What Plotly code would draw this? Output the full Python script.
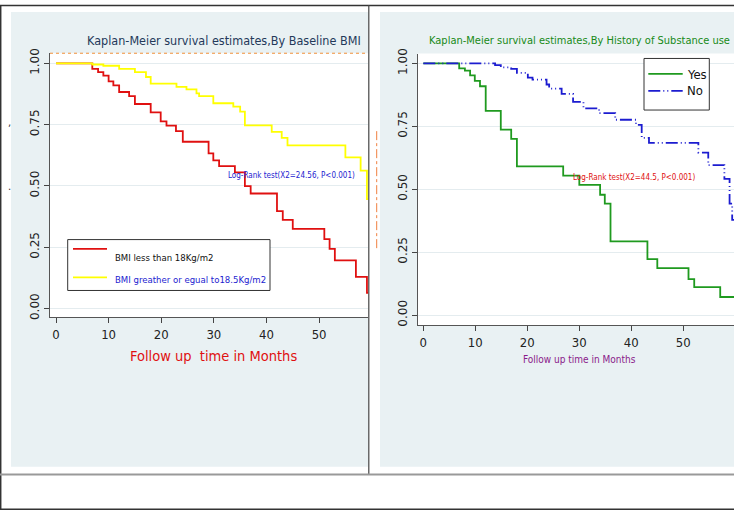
import plotly.graph_objects as go

W, H = 734, 513

# ---------------- data ----------------
months_ticks = [0, 10, 20, 30, 40, 50, 60]
surv_ticks = [0, 0.25, 0.5, 0.75, 1.0]
surv_tick_text = ["0.00", "0.25", "0.50", "0.75", "1.00"]

bmi_low_t = [0, 6.9, 8.0, 9.0, 10.0, 10.9, 12.0, 13.9, 15.0, 18.0, 19.9, 21.0, 22.8, 24.1,
             29.0, 29.9, 31.0, 34.0, 35.9, 37.0, 42.0, 43.1, 45.0, 51.0, 52.0, 53.0, 57.0, 59.1, 60]
bmi_low_s = [1.0, 0.977, 0.964, 0.950, 0.926, 0.910, 0.883, 0.866, 0.834, 0.800, 0.763, 0.746, 0.723, 0.680,
             0.633, 0.604, 0.581, 0.555, 0.499, 0.469, 0.397, 0.361, 0.325, 0.283, 0.243, 0.196, 0.129, 0.064, 0.064]

bmi_high_t = [0, 6.9, 9.0, 12.0, 15.0, 17.1, 18.0, 22.9, 24.8, 26.7, 27.2, 29.9, 33.7, 35.0, 35.9,
              41.0, 42.9, 44.0, 55.0, 57.9, 59.1, 60]
bmi_high_s = [1.0, 0.995, 0.990, 0.977, 0.964, 0.944, 0.917, 0.904, 0.894, 0.877, 0.866, 0.837, 0.823, 0.803, 0.747,
              0.720, 0.696, 0.665, 0.616, 0.562, 0.446, 0.446]

subst_yes_t = [0, 6.9, 8.0, 9.0, 9.9, 10.9, 12.0, 14.9, 16.9, 18.0, 26.9, 30.0, 34.0, 34.9, 36.0,
               43.1, 45.0, 51.0, 52.1, 57.1, 60]
subst_yes_s = [1.0, 0.980, 0.971, 0.952, 0.930, 0.909, 0.811, 0.737, 0.700, 0.591, 0.554, 0.517, 0.478, 0.443, 0.293,
               0.222, 0.187, 0.143, 0.111, 0.072, 0.072]

subst_no_t = [0, 13.8, 14.9, 16.9, 18.0, 20.1, 21.0, 23.7, 24.2, 26.6, 28.8, 30.8, 33.8, 36.9, 40.9,
              42.0, 43.4, 52.9, 54.8, 57.9, 58.9, 59.4, 60]
subst_no_s = [1.0, 0.993, 0.984, 0.978, 0.962, 0.943, 0.935, 0.916, 0.900, 0.879, 0.847, 0.821, 0.802, 0.776, 0.756,
              0.704, 0.684, 0.645, 0.596, 0.541, 0.443, 0.378, 0.378]

left_title = "Kaplan-Meier survival estimates,By Baseline BMI"
right_title = "Kaplan-Meier survival estimates,By History of Substance use"
left_xtitle = "Follow up  time in Months"
right_xtitle = "Follow up time in Months"
left_test = "Log-Rank test(X2=24.56, P<0.001)"
right_test = "Log-Rank test(X2=44.5, P<0.001)"
legend_left = ["BMI less than 18Kg/m2", "BMI greather or egual to18.5Kg/m2"]
legend_right = ["Yes", "No"]

# ---------------- styles ----------------
RED = "#e01010"
YELLOW = "#ffff00"
GREEN = "#1f9a1f"
BLUE = "#1c1cd0"
PANEL = "#e9f1f3"
NARROW = "Liberation Sans Narrow, Arial Narrow, DejaVu Sans Condensed, Liberation Sans, sans-serif"
WIDE = "DejaVu Sans, Verdana, sans-serif"


def px(x):
    return x / W


def py(y):
    return 1 - y / H


fig = go.Figure()

fig.add_trace(go.Scatter(x=bmi_low_t, y=bmi_low_s, mode="lines", line=dict(shape="hv", color=RED, width=1.8),
                         xaxis="x", yaxis="y", showlegend=False))
fig.add_trace(go.Scatter(x=bmi_high_t, y=bmi_high_s, mode="lines", line=dict(shape="hv", color=YELLOW, width=1.8),
                         xaxis="x", yaxis="y", showlegend=False))
fig.add_trace(go.Scatter(x=subst_yes_t, y=subst_yes_s, mode="lines", line=dict(shape="hv", color=GREEN, width=1.8),
                         xaxis="x2", yaxis="y2", showlegend=False))
fig.add_trace(go.Scatter(x=subst_no_t, y=subst_no_s, mode="lines",
                         line=dict(shape="hv", color=BLUE, width=1.8, dash="12px,3px,1px,3px,1px,3px"),
                         xaxis="x2", yaxis="y2", showlegend=False))

common_x = dict(tickvals=months_ticks, ticks="outside", ticklen=5, tickcolor="#444", showline=True,
                linecolor="#555", linewidth=1, showgrid=False, zeroline=False,
                tickfont=dict(family=NARROW, size=13, color="#222"))
common_y = dict(tickvals=surv_ticks, ticktext=surv_tick_text, ticks="outside", ticklen=5, tickcolor="#444",
                showline=True, linecolor="#555", linewidth=1, showgrid=True, gridcolor="#e4ecef", gridwidth=1,
                zeroline=False, tickangle=-90, tickfont=dict(family=WIDE, size=12, color="#222"))

fig.update_layout(
    width=W, height=H, margin=dict(l=0, r=0, t=0, b=0, pad=0),
    paper_bgcolor="white", plot_bgcolor="rgba(0,0,0,0)",
    xaxis=dict(domain=[px(50), px(368)], range=[-1.14, 59.3], anchor="y", **common_x),
    yaxis=dict(domain=[py(317), py(49)], range=[-0.035, 1.041], anchor="x", **common_y),
    xaxis2=dict(domain=[px(417.7), 1.0], range=[-1.08, 59.75], anchor="y2", **common_x),
    yaxis2=dict(domain=[py(325), py(49.3)], range=[-0.039, 1.039], anchor="x2", **common_y),
)

shapes = []
# panel backgrounds
shapes.append(dict(type="rect", xref="paper", yref="paper", x0=px(11), x1=px(368), y0=py(469), y1=py(7),
                   fillcolor=PANEL, line=dict(width=0), layer="below"))
shapes.append(dict(type="rect", xref="paper", yref="paper", x0=px(380), x1=px(734), y0=py(469), y1=py(7),
                   fillcolor=PANEL, line=dict(width=0), layer="below"))
# plot areas
shapes.append(dict(type="rect", xref="paper", yref="paper", x0=px(50), x1=px(368), y0=py(317), y1=py(49),
                   fillcolor="white", line=dict(width=0), layer="below"))
shapes.append(dict(type="rect", xref="paper", yref="paper", x0=px(417.7), x1=1, y0=py(325), y1=py(49.3),
                   fillcolor="white", line=dict(width=0), layer="below"))
# orange dotted top line (left)
shapes.append(dict(type="line", xref="paper", yref="paper", x0=px(50), x1=px(368), y0=py(49), y1=py(49),
                   line=dict(color="#f0903a", width=1, dash="dot"), layer="above"))
# orange dash-dot vertical fragment between panels
shapes.append(dict(type="line", xref="paper", yref="paper", x0=px(376.7), x1=px(376.7), y0=py(247), y1=py(128),
                   line=dict(color="#f08040", width=1, dash="dashdot"), layer="above"))
# frame lines
shapes.append(dict(type="line", xref="paper", yref="paper", x0=0, x1=1, y0=py(0.5), y1=py(0.5),
                   line=dict(color="#333", width=1.5), layer="above"))
shapes.append(dict(type="line", xref="paper", yref="paper", x0=px(0.7), x1=px(0.7), y0=0, y1=1,
                   line=dict(color="#333", width=1.5), layer="above"))
shapes.append(dict(type="line", xref="paper", yref="paper", x0=0, x1=1, y0=py(512.3), y1=py(512.3),
                   line=dict(color="#333", width=1.5), layer="above"))
shapes.append(dict(type="line", xref="paper", yref="paper", x0=px(368.8), x1=px(368.8), y0=py(477), y1=1,
                   line=dict(color="#444", width=1.2), layer="above"))
shapes.append(dict(type="line", xref="paper", yref="paper", x0=0, x1=1, y0=py(477), y1=py(477),
                   line=dict(color="#999", width=2), layer="above"))
# left legend
shapes.append(dict(type="rect", xref="paper", yref="paper", x0=px(67.7), x1=px(270), y0=py(290), y1=py(238.3),
                   fillcolor="white", line=dict(color="#333", width=1), layer="above"))
shapes.append(dict(type="line", xref="paper", yref="paper", x0=px(73), x1=px(107), y0=py(247.7), y1=py(247.7),
                   line=dict(color=RED, width=1.8), layer="above"))
shapes.append(dict(type="line", xref="paper", yref="paper", x0=px(73), x1=px(107), y0=py(276.7), y1=py(276.7),
                   line=dict(color=YELLOW, width=1.8), layer="above"))
# right legend
shapes.append(dict(type="rect", xref="paper", yref="paper", x0=px(644), x1=px(709.3), y0=py(106.7), y1=py(54.3),
                   fillcolor="white", line=dict(color="#333", width=1), layer="above"))
shapes.append(dict(type="line", xref="paper", yref="paper", x0=px(648.3), x1=px(682.7), y0=py(70), y1=py(70),
                   line=dict(color=GREEN, width=1.8), layer="above"))
shapes.append(dict(type="line", xref="paper", yref="paper", x0=px(648.3), x1=px(682.7), y0=py(87.3), y1=py(87.3),
                   line=dict(color=BLUE, width=1.8, dash="12px,3px,1px,3px,1px,3px"), layer="above"))
fig.update_layout(shapes=shapes)


def ann(x, y, text, size, color, family=NARROW, xanchor="center"):
    fig.add_annotation(x=px(x), y=py(y), xref="paper", yref="paper", text=text, showarrow=False,
                       xanchor=xanchor, yanchor="middle", font=dict(family=family, size=size, color=color))


ann(224, 36, left_title, 12.5, "#24395a")
ann(579, 36, right_title, 11, "#178a17")
ann(213, 357, left_xtitle, 14.5, "#e01010")
ann(579.5, 360, right_xtitle, 10, "#8a1a8a")
ann(291.5, 173.3, left_test, 8, "#1c1cd0")
ann(634, 175.7, right_test, 8, "#e01010")
ann(112.7, 256, legend_left[0], 9.5, "#111", xanchor="left")
ann(112.7, 279, legend_left[1], 9.5, "#1c1cd0", xanchor="left")
ann(685, 70.3, legend_right[0], 13, "#111", xanchor="left")
ann(685, 87.3, legend_right[1], 13, "#111", xanchor="left")
ann(9, 119, ",", 10, "#333", family=WIDE)
ann(9, 184, ".", 10, "#333", family=WIDE)

fig.write_html(
    "out.html",
    config={"displayModeBar": False},
    post_script="document.documentElement.style.margin='0';document.body.style.margin='0';"
                "document.body.style.padding='0';document.body.style.overflow='hidden';",
)
